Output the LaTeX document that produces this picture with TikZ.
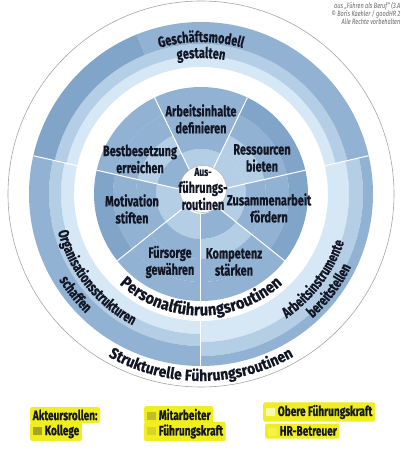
\documentclass[tikz,border=0pt]{standalone}
\usepackage{fontspec}
\usetikzlibrary{decorations.text}

\newfontfamily\condfont{Fira Sans}[FakeStretch=0.73, BoldFeatures={FakeBold=0.5}]
\newfontfamily\widefont{Fira Sans}[FakeStretch=0.9, BoldFeatures={FakeBold=0.5}]

\definecolor{ink}{RGB}{18,22,36}
\definecolor{bluea}{RGB}{128,165,201}
\definecolor{blueb}{RGB}{145,178,210}
\definecolor{bluec}{RGB}{180,206,230}
\definecolor{blued}{RGB}{214,232,246}
\definecolor{hlyellow}{RGB}{240,238,30}
\definecolor{roleka}{RGB}{165,165,35}
\definecolor{rolemi}{RGB}{190,190,40}
\definecolor{rolefk}{RGB}{214,212,40}
\definecolor{roleob}{RGB}{250,250,175}
\definecolor{rolehr}{RGB}{244,242,70}

% annular sector: start angle, end angle, inner r, outer r, colour
\newcommand{\ringpart}[5]{\fill[#5] (#1:#4) arc[start angle=#1,end angle=#2,radius=#4] -- (#2:#3) arc[start angle=#2,end angle=#1,radius=#3] -- cycle;}
\newcommand{\rolebox}[1]{\textcolor{#1}{\rule{9pt}{8pt}}\hspace{3pt}}

\begin{document}
\begin{tikzpicture}[x=1pt,y=1pt]
\tikzstyle{lbl}=[font=\condfont\bfseries\fontsize{15}{17}\selectfont, text=ink, align=center, inner sep=0pt]
\tikzstyle{role}=[font=\condfont\bfseries\fontsize{13.8}{15}\selectfont, text=ink, fill=hlyellow, rounded corners=2pt, inner sep=2.6pt, anchor=west]
\tikzstyle{sep}=[white, line width=1pt]
\useasboundingbox (-201,-256) rectangle (199,194);
\fill[white] (-201,-256) rectangle (199,194);

% outer ring: three sectors
\ringpart{12.86}{167.14}{127}{138}{blued}
\ringpart{12.86}{167.14}{138}{150}{bluec}
\ringpart{12.86}{112}{150}{172}{blueb}
\ringpart{112}{167.14}{150}{172}{bluea}
\ringpart{167.14}{270}{127}{140}{blued}
\ringpart{167.14}{270}{140}{152}{bluec}
\ringpart{167.14}{270}{152}{172}{blueb}
\ringpart{270}{372.86}{127}{148}{blued}
\ringpart{270}{372.86}{148}{162}{bluec}
\ringpart{270}{372.86}{162}{172}{blueb}

% inner disc: seven sectors
\foreach \a/\ca/\cb/\cc/\cd in {12.86/bluec/bluec/blueb/bluea, 64.29/bluec/blueb/blueb/blueb,
  115.71/blueb/bluec/blueb/blueb, 167.14/bluec/blueb/blueb/bluea, 218.57/bluec/blueb/blueb/blueb,
  270/blueb/bluec/blueb/blueb, 321.43/bluec/blueb/blueb/bluea}{
  \pgfmathsetmacro\b{\a+51.43}
  \ringpart{\a}{\b}{20}{45}{\ca}
  \ringpart{\a}{\b}{45}{65}{\cb}
  \ringpart{\a}{\b}{65}{88}{\cc}
  \ringpart{\a}{\b}{88}{107}{\cd}
}
\foreach \a in {12.86,64.29,115.71,167.14,218.57,270,321.43}
  \draw[sep] (\a:20) -- (\a:107);
\foreach \a in {12.86,167.14,270}
  \draw[sep] (\a:127) -- (\a:172);

\draw[gray!70, line width=0.6pt] (0,0) circle[radius=193];
\fill[white] (2,5) circle[radius=23.5];
\draw[gray!60, line width=0.5pt] (2,5) circle[radius=23.5];

% inner labels
\node[lbl] (core) at (2,5) {\fontsize{11.5}{13}\selectfont Aus-\\führungs-\\routinen};
\node[lbl] (inhalt) at (0,75) {Arbeitsinhalte\\definieren};
\node[lbl] (besetz) at (-61,35) {Bestbesetzung\\erreichen};
\node[lbl] (ressou) at (61,36) {Ressourcen\\bieten};
\node[lbl] (motiv) at (-69,-15) {Motivation\\stiften};
\node[lbl] (zusamm) at (68,-14) {Zusammenarbeit\\fördern};
\node[lbl] (fuers) at (-31,-68) {Fürsorge\\gewähren};
\node[lbl] (kompet) at (33,-68) {Kompetenz\\stärken};

% curved labels
\path[decorate, decoration={text along path, text align=center, text color=ink,
  text={|\condfont\bfseries\fontsize{15}{15}\selectfont|Geschäftsmodell}}]
  (130:152) arc[start angle=130, end angle=50, radius=152];
\path[decorate, decoration={text along path, text align=center, text color=ink,
  text={|\condfont\bfseries\fontsize{15}{15}\selectfont|gestalten}}]
  (120:136) arc[start angle=120, end angle=60, radius=136];
\path[decorate, decoration={text along path, text align=center, text color=ink,
  text={|\condfont\bfseries\fontsize{15}{15}\selectfont|Organisationsstrukturen}}]
  (178.6:148) arc[start angle=178.6, end angle=258.6, radius=148];
\path[decorate, decoration={text along path, text align=center, text color=ink,
  text={|\condfont\bfseries\fontsize{15}{15}\selectfont|schaffen}}]
  (178.6:166) arc[start angle=178.6, end angle=258.6, radius=166];
\path[decorate, decoration={text along path, text align=center, text color=ink,
  text={|\condfont\bfseries\fontsize{15}{15}\selectfont|Arbeitsinstrumente}}]
  (283:151) arc[start angle=283, end angle=363, radius=151];
\path[decorate, decoration={text along path, text align=center, text color=ink,
  text={|\condfont\bfseries\fontsize{15}{15}\selectfont|bereitstellen}}]
  (283:167) arc[start angle=283, end angle=363, radius=167];
\path[decorate, decoration={text along path, text align=center, text color=ink,
  text={|\widefont\bfseries\fontsize{16.5}{16.5}\selectfont|Personalführungsroutinen}}]
  (200:121.5) arc[start angle=200, end angle=340, radius=121.5];
\path[decorate, decoration={text along path, text align=center, text color=ink,
  text={|\widefont\bfseries\fontsize{15.5}{15.5}\selectfont|Strukturelle Führungsroutinen}}]
  (220:187) arc[start angle=220, end angle=320, radius=187];

% source note
\node[font=\condfont\itshape\fontsize{7.6}{7.8}\selectfont, text=gray!80!black, align=right,
  anchor=north east, inner sep=0pt] (source) at (199.5,192)
  {aus „Führen als Beruf“ (3.A\\© Boris Kaehler / goodHR 2\\Alle Rechte vorbehalten};

% legend
\node[role] (akteur) at (-171,-221) {Akteursrollen:};
\node[role] (kolleg) at (-171,-237.5) {\rolebox{roleka}Kollege};
\node[role] (mitarb) at (-57,-220.5) {\rolebox{rolemi}Mitarbeiter};
\node[role] (fuehr) at (-57,-237.5) {\rolebox{rolefk}Führungskraft};
\node[role] (obere) at (62,-218) {\rolebox{roleob}Obere Führungskraft};
\node[role] (hrbetr) at (64,-237) {\rolebox{rolehr}HR-Betreuer};
\end{tikzpicture}
\end{document}
